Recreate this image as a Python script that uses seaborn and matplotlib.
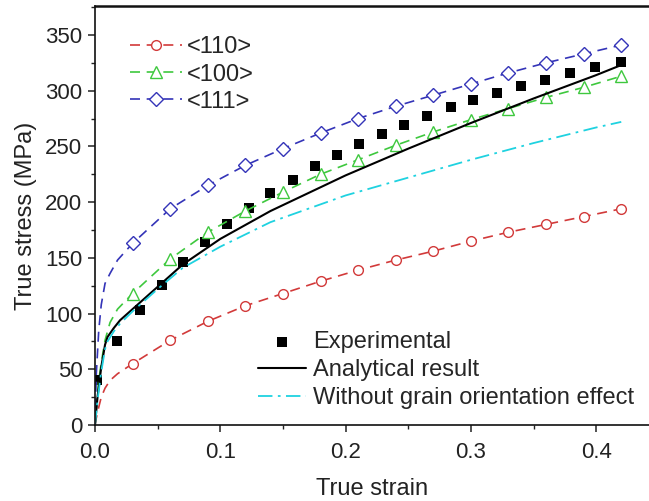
import matplotlib
matplotlib.use("Agg")
import matplotlib.pyplot as plt
import seaborn as sns
import numpy as np
import pandas as pd
from matplotlib.ticker import MultipleLocator

# ---- data ----
orient_strain = [0, 0.001, 0.003, 0.005, 0.008, 0.012, 0.018,
                 0.03, 0.06, 0.09, 0.12, 0.15, 0.18, 0.21, 0.24, 0.27, 0.30,
                 0.33, 0.36, 0.39, 0.42]
stress_110 = [0, 6, 16, 25, 33, 40, 46,
              55, 76, 93, 107, 118, 129, 139, 148, 156, 165, 173, 180, 187, 194]
stress_100 = [0, 15, 40, 56, 76, 92, 104,
              118, 149, 173, 192, 209, 225, 238, 251, 263, 274, 284, 294, 303, 313]
stress_111 = [0, 45, 85, 108, 127, 136, 148,
              163, 194, 215, 233, 248, 262, 275, 286, 296, 306, 316, 325, 333, 341]

exp_strain = [0.0013, 0.0178, 0.0359, 0.0532, 0.070, 0.0878, 0.105, 0.1227,
              0.140, 0.158, 0.1756, 0.1934, 0.211, 0.229, 0.247, 0.265, 0.284,
              0.302, 0.321, 0.340, 0.359, 0.379, 0.399, 0.420]
exp_stress = [40, 75, 103, 126, 146, 164, 180, 195, 208, 220, 232, 242, 252,
              261, 269, 277, 285, 292, 298, 304, 310, 316, 321, 326]

ana_strain = [0, 0.002, 0.005, 0.008, 0.01, 0.015, 0.02, 0.03, 0.05, 0.07,
              0.10, 0.14, 0.20, 0.25, 0.30, 0.35, 0.40, 0.42]
ana_stress = [0, 25, 52, 72, 79, 87, 94, 104, 124, 144, 167, 192, 224, 248,
              271, 293, 314, 323]

noor_strain = [0, 0.002, 0.005, 0.008, 0.01, 0.015, 0.02, 0.03, 0.05, 0.07,
               0.10, 0.14, 0.20, 0.25, 0.30, 0.35, 0.40, 0.42]
noor_stress = [0, 22, 48, 68, 75, 84, 91, 102, 122, 141, 160, 182, 206, 222,
               238, 253, 267, 272]

x_ticks = [0.0, 0.1, 0.2, 0.3, 0.4]
x_ticklabels = ["0.0", "0.1", "0.2", "0.3", "0.4"]
y_ticks = [0, 50, 100, 150, 200, 250, 300, 350]

# ---- style ----
sns.set_style("ticks")
plt.rcParams["font.family"] = ["Liberation Sans", "DejaVu Sans"]

fig = plt.figure(figsize=(6.49, 5.01), dpi=100)
ax = fig.add_axes([95 / 649, 1 - 425 / 501, 1 - 95 / 649, (425 - 6) / 501])

mark_idx = list(range(7, len(orient_strain)))

c_red = "#d23a3a"
c_green = "#3ec83e"
c_blue = "#3434b8"
c_cyan = "#1fd2e0"

df_o = pd.DataFrame({"strain": orient_strain, "s110": stress_110,
                     "s100": stress_100, "s111": stress_111})

sns.lineplot(data=df_o, x="strain", y="s110", ax=ax, color=c_red, lw=1.2,
             dashes=False, linestyle=(0, (6, 4)), marker="o", markersize=7,
             markerfacecolor="white", markeredgecolor=c_red, markeredgewidth=1.0,
             markevery=mark_idx, sort=False, estimator=None, label="<110>")
sns.lineplot(data=df_o, x="strain", y="s100", ax=ax, color=c_green, lw=1.2,
             dashes=False, linestyle=(0, (6, 4)), marker="^", markersize=8,
             markerfacecolor="white", markeredgecolor=c_green, markeredgewidth=1.0,
             markevery=mark_idx, sort=False, estimator=None, label="<100>")
sns.lineplot(data=df_o, x="strain", y="s111", ax=ax, color=c_blue, lw=1.2,
             dashes=False, linestyle=(0, (6, 4)), marker="D", markersize=7,
             markerfacecolor="white", markeredgecolor=c_blue, markeredgewidth=1.0,
             markevery=mark_idx, sort=False, estimator=None, label="<111>")

df_e = pd.DataFrame({"strain": exp_strain, "stress": exp_stress})
sns.scatterplot(data=df_e, x="strain", y="stress", ax=ax, marker="s", s=50,
                color="black", edgecolor="black", linewidth=0, label="Experimental")

df_a = pd.DataFrame({"strain": ana_strain, "stress": ana_stress})
sns.lineplot(data=df_a, x="strain", y="stress", ax=ax, color="black", lw=1.5,
             sort=False, estimator=None, label="Analytical result")

df_n = pd.DataFrame({"strain": noor_strain, "stress": noor_stress})
sns.lineplot(data=df_n, x="strain", y="stress", ax=ax, color=c_cyan, lw=1.3,
             linestyle=(0, (8, 3, 1.5, 3)), sort=False, estimator=None,
             label="Without grain orientation effect")

ax.set_xlim(0, (649 - 95) / 1253.0)
ax.set_ylim(0, 376)
ax.set_xticks(x_ticks)
ax.set_xticklabels(x_ticklabels)
ax.set_yticks(y_ticks)
ax.xaxis.set_minor_locator(MultipleLocator(0.05))
ax.yaxis.set_minor_locator(MultipleLocator(25))
ax.tick_params(axis="both", which="major", direction="out", length=5, width=1.1,
               labelsize=16, colors="#222222", labelcolor="#222222")
ax.tick_params(axis="both", which="minor", direction="out", length=3, width=1.0,
               colors="#222222")
ax.tick_params(axis="x", pad=7)
ax.tick_params(axis="y", pad=4)

for side in ["left", "bottom"]:
    ax.spines[side].set_linewidth(1.2)
    ax.spines[side].set_color("#111111")
ax.spines["top"].set_visible(True)
ax.spines["top"].set_linewidth(1.8)
ax.spines["top"].set_color("#111111")
ax.spines["right"].set_visible(False)

ax.set_xlabel("True strain", fontsize=17, color="#222222", labelpad=11)
ax.set_ylabel("True stress (MPa)", fontsize=17, color="#222222", labelpad=6)

handles, labels = ax.get_legend_handles_labels()
hmap = dict(zip(labels, handles))

leg1 = ax.legend([hmap["<110>"], hmap["<100>"], hmap["<111>"]],
                 ["<110>", "<100>", "<111>"],
                 loc="upper left", bbox_to_anchor=(0.033, 0.967), frameon=False,
                 fontsize=17, handlelength=2.2, handletextpad=0.22,
                 labelspacing=0.22, borderpad=0.2)
ax.add_artist(leg1)
leg2 = ax.legend([hmap["Experimental"], hmap["Analytical result"],
                  hmap["Without grain orientation effect"]],
                 ["Experimental", "Analytical result",
                  "Without grain orientation effect"],
                 loc="lower left", bbox_to_anchor=(0.265, -0.001), frameon=False,
                 fontsize=17, handlelength=2.0, handletextpad=0.3,
                 labelspacing=0.25, borderpad=0.2, scatterpoints=1)

fig.savefig("out.png", dpi=100)
